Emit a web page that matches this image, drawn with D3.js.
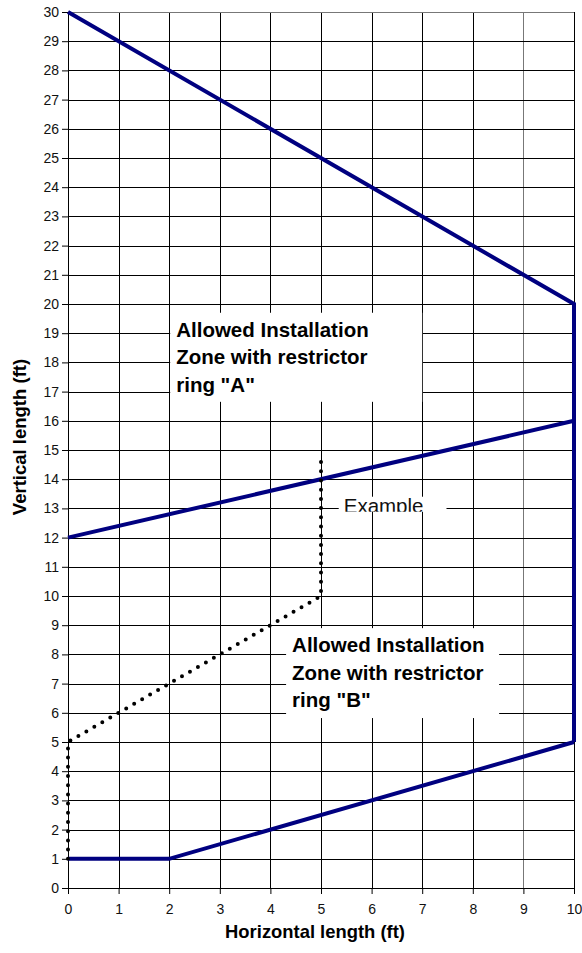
<!DOCTYPE html>
<html>
<head>
<meta charset="utf-8">
<script src="https://cdn.jsdelivr.net/npm/d3@7"></script>
<style>
  body { margin: 0; background: #fff; }
  text { font-family: "Liberation Sans", Arial, sans-serif; }
</style>
</head>
<body>
<svg id="mysvg" width="582" height="953"></svg>
<script>
// Data
const xTicks = d3.range(0, 11);
const yTicks = d3.range(0, 31);
const upperLimit = [[0, 30], [10, 20], [10, 5]];
const middleLine = [[0, 12], [10, 16]];
const lowerLimit = [[0, 1], [2, 1], [10, 5]];
const examplePath = [[0, 1], [0, 5], [5, 10], [5, 14.75]];
const labels = [
  { x: 2.02, y: 19.7, w: 4.98, h: 3.05, lines: ['Allowed Installation', 'Zone with restrictor', 'ring "A"'] },
  { x: 4.31, y: 8.9, w: 4.21, h: 3.08, lines: ['Allowed Installation', 'Zone with restrictor', 'ring "B"'] }
];
const exampleLabel = { x: 5.35, y: 13.4, w: 2.13, text: 'Example' };

const margin = { top: 12, left: 68 };
const innerWidth = 574 - margin.left;
const innerHeight = 888 - margin.top;

const svg = d3.select('#mysvg');
const g = svg.append('g').attr('transform', `translate(${margin.left}, ${margin.top})`);

const xScale = d3.scaleLinear().domain([0, 10]).range([0, innerWidth]);
const yScale = d3.scaleLinear().domain([0, 30]).range([innerHeight, 0]);

// Grid
g.selectAll('.vgrid')
  .data(xTicks)
  .join('line')
  .attr('class', 'vgrid')
  .attr('x1', d => Math.round(xScale(d)) + 0.5)
  .attr('x2', d => Math.round(xScale(d)) + 0.5)
  .attr('y1', 0)
  .attr('y2', innerHeight)
  .attr('stroke', d => d === 9 ? '#777' : '#000')
  .attr('stroke-width', 1);

g.selectAll('.hgrid')
  .data(yTicks)
  .join('line')
  .attr('class', 'hgrid')
  .attr('x1', 0)
  .attr('x2', innerWidth)
  .attr('y1', d => Math.round(yScale(d)) + 0.5)
  .attr('y2', d => Math.round(yScale(d)) + 0.5)
  .attr('stroke', d => d === 30 ? '#777' : '#000')
  .attr('stroke-width', 1);

// Axes
const xAxis = g.append('g')
  .attr('transform', `translate(0, ${innerHeight})`)
  .call(d3.axisBottom(xScale).tickValues(xTicks).tickSize(6).tickPadding(10).tickFormat(d3.format('d')));
const yAxis = g.append('g')
  .call(d3.axisLeft(yScale).tickValues(yTicks).tickSize(6).tickPadding(3).tickFormat(d3.format('d')));
[xAxis, yAxis].forEach(a => {
  a.select('.domain').attr('stroke', '#000');
  a.selectAll('.tick line').attr('stroke', '#000');
  a.selectAll('.tick text')
    .attr('fill', '#111')
    .style('font', '14px "Liberation Sans", Arial, sans-serif');
});

// Label boxes (white, covering grid)
labels.forEach(lb => {
  const x0 = xScale(lb.x), y0 = yScale(lb.y);
  g.append('rect')
    .attr('x', x0).attr('y', y0)
    .attr('width', xScale(lb.w) - xScale(0))
    .attr('height', yScale(0) - yScale(lb.h))
    .attr('fill', '#fff');
  g.append('text')
    .attr('x', x0 + 6)
    .attr('y', y0 + 24)
    .style('font', 'bold 20.5px "Liberation Sans", Arial, sans-serif')
    .attr('fill', '#000')
    .selectAll('tspan')
    .data(lb.lines)
    .join('tspan')
    .attr('x', x0 + 6)
    .attr('dy', (d, i) => i === 0 ? 0 : 27.5)
    .text(d => d);
});

// "Example" label box, text clipped at bottom
const exX = xScale(exampleLabel.x), exY = yScale(exampleLabel.y);
const exW = xScale(exampleLabel.w) - xScale(0), exH = 15;
g.append('clipPath').attr('id', 'exclip')
  .append('rect').attr('x', exX).attr('y', exY).attr('width', exW).attr('height', exH);
g.append('rect')
  .attr('x', exX).attr('y', exY).attr('width', exW).attr('height', exH)
  .attr('fill', '#fff');
g.append('text')
  .attr('clip-path', 'url(#exclip)')
  .attr('x', exX + 5)
  .attr('y', exY + 16.5)
  .style('font', '20.5px "Liberation Sans", Arial, sans-serif')
  .attr('fill', '#111')
  .text(exampleLabel.text);

// Lines
const lineGen = d3.line().x(d => xScale(d[0])).y(d => yScale(d[1]));

[upperLimit, middleLine, lowerLimit].forEach(series => {
  g.append('path')
    .datum(series)
    .attr('d', lineGen)
    .attr('fill', 'none')
    .attr('stroke', '#000080')
    .attr('stroke-width', 4)
    .attr('stroke-linejoin', 'miter');
});

// dotted example path
g.append('path')
  .datum(examplePath)
  .attr('d', lineGen)
  .attr('fill', 'none')
  .attr('stroke', '#000')
  .attr('stroke-width', 4)
  .attr('stroke-linecap', 'round')
  .attr('stroke-dasharray', '0 9.2');

// Axis titles
svg.append('text')
  .attr('x', 315)
  .attr('y', 938)
  .attr('text-anchor', 'middle')
  .style('font', 'bold 18.4px "Liberation Sans", Arial, sans-serif')
  .text('Horizontal length (ft)');

svg.append('text')
  .attr('transform', 'translate(26, 437) rotate(-90)')
  .attr('text-anchor', 'middle')
  .style('font', 'bold 18.5px "Liberation Sans", Arial, sans-serif')
  .text('Vertical length (ft)');
</script>
</body>
</html>
